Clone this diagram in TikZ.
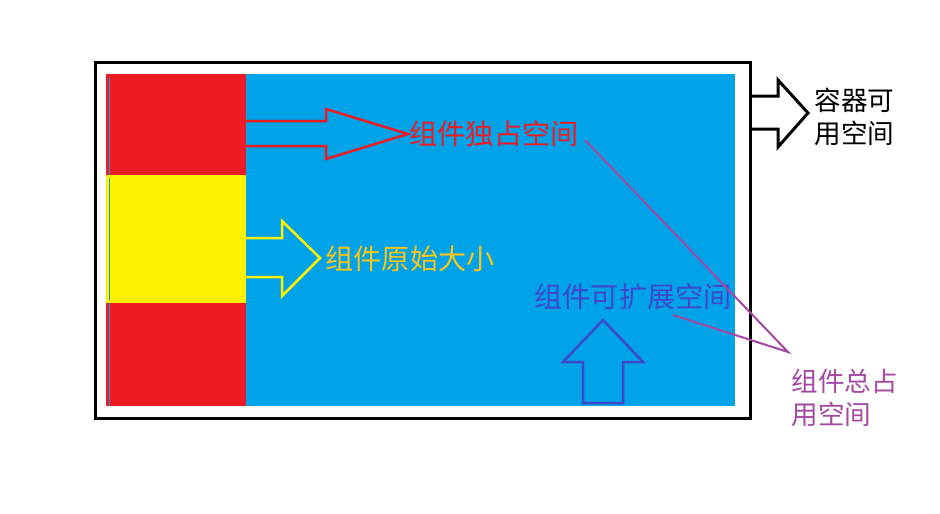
\documentclass[tikz,border=0pt]{standalone}
\usepackage{fontspec}
\newfontfamily\cjk{Noto Sans CJK SC}
\definecolor{pblue}{HTML}{00A2E8}
\definecolor{pred}{HTML}{ED1C24}
\definecolor{pyellow}{HTML}{FFF200}
\definecolor{pgold}{HTML}{F8C61A}
\definecolor{pindigo}{HTML}{3F48CC}
\definecolor{ppurple}{HTML}{A349A4}
\begin{document}
\begin{tikzpicture}[x=1pt,y=-1pt,
  lbl/.style={inner sep=0pt,outer sep=0pt,anchor=west,font=\cjk\fontsize{28.2}{30}\selectfont},
  side/.style={inner sep=0pt,outer sep=0pt,anchor=west,font=\cjk\fontsize{26.6}{30}\selectfont},
  outline/.style={line width=2.5pt,line join=miter}]
\useasboundingbox (0,0) rectangle (940,514);
\fill[white] (0,0) rectangle (940,514);
% container border
\draw[line width=3pt] (95.5,62.5) rectangle (750,418);
% coloured areas
\fill[pblue] (106,74) rectangle (735,406);
\fill[pred] (106,74) rectangle (246,175);
\fill[pyellow] (106,175) rectangle (246,303);
\fill[pred] (106,303) rectangle (246,406);
\draw[pblue,line width=0.8pt] (109.3,77) -- (109.3,175) (109.3,178) -- (109.3,300) (109.3,303) -- (109.3,406);
% red arrow
\draw[pred,outline] (246,121) -- (326,121) -- (326,109) -- (408,134) -- (326,159) -- (326,146) -- (246,146);
% yellow arrow
\draw[pyellow,outline] (246,238) -- (282,238) -- (282,221) -- (320,258) -- (282,296) -- (282,277) -- (246,277);
% black arrow
\draw[line width=3pt,line join=miter] (751,96) -- (778,96) -- (778,80) -- (808,113) -- (778,147) -- (778,129) -- (751,129);
% indigo up arrow
\draw[pindigo,outline] (583,403) -- (583,362) -- (563,362) -- (603,320) -- (643,362) -- (623,362) -- (623,403) -- cycle;
% texts
\node[lbl,text=pred] (t1) at (409.5,134) {组件独占空间};
\node[lbl,text=pgold] (t2) at (325.5,259) {组件原始大小};
\node[lbl,text=pindigo] (t3) at (534.5,297) {组件可扩展空间};
\node[side] (t4a) at (814.5,100) {容器可};
\node[side] (t4b) at (814.5,133) {用空间};
\node[side,text=ppurple] (t5a) at (791.5,381) {组件总占};
\node[side,text=ppurple] (t5b) at (791.5,414) {用空间};
% pointer lines
\coordinate (p1) at (585,140);
\coordinate (p2) at (673,315);
\coordinate (pj) at (788,352);
\draw[ppurple,line width=2pt] (p1) -- (pj) -- (p2);
\end{tikzpicture}
\end{document}
